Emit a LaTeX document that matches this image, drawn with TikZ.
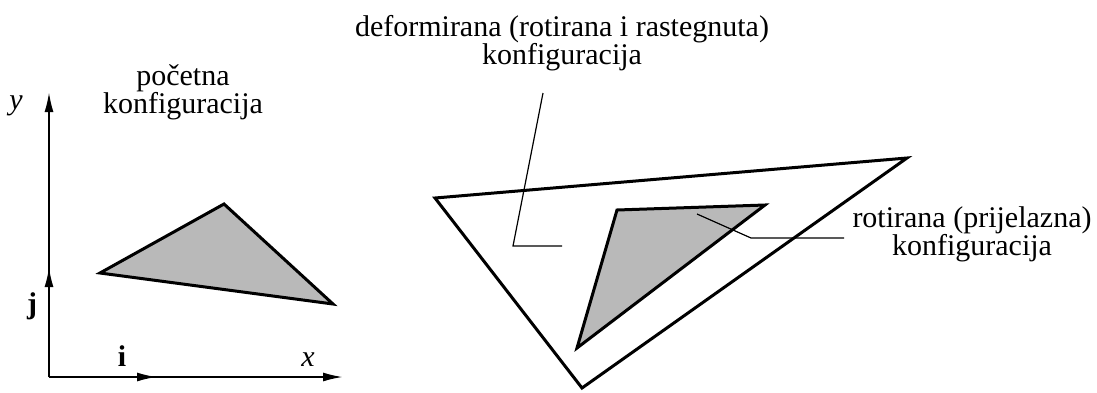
\documentclass[tikz,border=0pt]{standalone}
\usepackage{fontspec}
\setmainfont{Liberation Serif}
\usetikzlibrary{arrows.meta}
\definecolor{cfggray}{HTML}{B9B9B9}

\begin{document}
\begin{tikzpicture}[x=0.5pt,y=-0.5pt,
  edge/.style={line width=1.5pt},
  axis/.style={line width=1pt,-{Latex[length=10pt,width=4.5pt]}},
  leader/.style={line width=0.6pt},
  lbl/.style={font=\fontsize{15}{14}\selectfont,align=center,inner sep=0pt}]
  \useasboundingbox (0,0) rectangle (1097,392);
  \coordinate (O) at (49,377);
  \coordinate (xend) at (343,377);
  \coordinate (yend) at (49,92);
  \coordinate (iend) at (157,377);
  \coordinate (jend) at (49,267);
  \draw[axis] (O) -- (xend);
  \draw[axis] (O) -- (yend);
  \draw[axis] (O) -- (iend);
  \draw[axis] (O) -- (jend);
  \node[lbl] (ylbl) at (16,106) {\textit{y}};
  \node[lbl] (xlbl) at (308,360) {\textit{x}};
  \node[lbl] (jlbl) at (32,306) {\textbf{j}};
  \node[lbl] (ilbl) at (122,356) {\textbf{i}};
  \coordinate (a1) at (100,273);
  \coordinate (a2) at (224,204);
  \coordinate (a3) at (333,304);
  \filldraw[edge,fill=cfggray] (a1) -- (a2) -- (a3) -- cycle;
  \coordinate (b1) at (435,198);
  \coordinate (b2) at (907,158);
  \coordinate (b3) at (582,388);
  \draw[edge] (b1) -- (b2) -- (b3) -- cycle;
  \coordinate (c1) at (617,210);
  \coordinate (c2) at (765,205);
  \coordinate (c3) at (577,348);
  \filldraw[edge,fill=cfggray] (c1) -- (c2) -- (c3) -- cycle;
  \node[lbl] (poclbl) at (183,92) {početna\\konfiguracija};
  \node[lbl] (deflbl) at (562,43) {deformirana (rotirana i rastegnuta)\\konfiguracija};
  \node[lbl] (rotlbl) at (972,234) {rotirana (prijelazna)\\konfiguracija};
  \coordinate (d1) at (543,93);
  \coordinate (d2) at (513,246);
  \coordinate (d3) at (562,246);
  \draw[leader] (d1) -- (d2) -- (d3);
  \coordinate (r1) at (697,214);
  \coordinate (r2) at (751,238);
  \draw[leader] ([xshift=-4pt,yshift=-2pt]rotlbl.west) -- (r2) -- (r1);
\end{tikzpicture}
\end{document}
